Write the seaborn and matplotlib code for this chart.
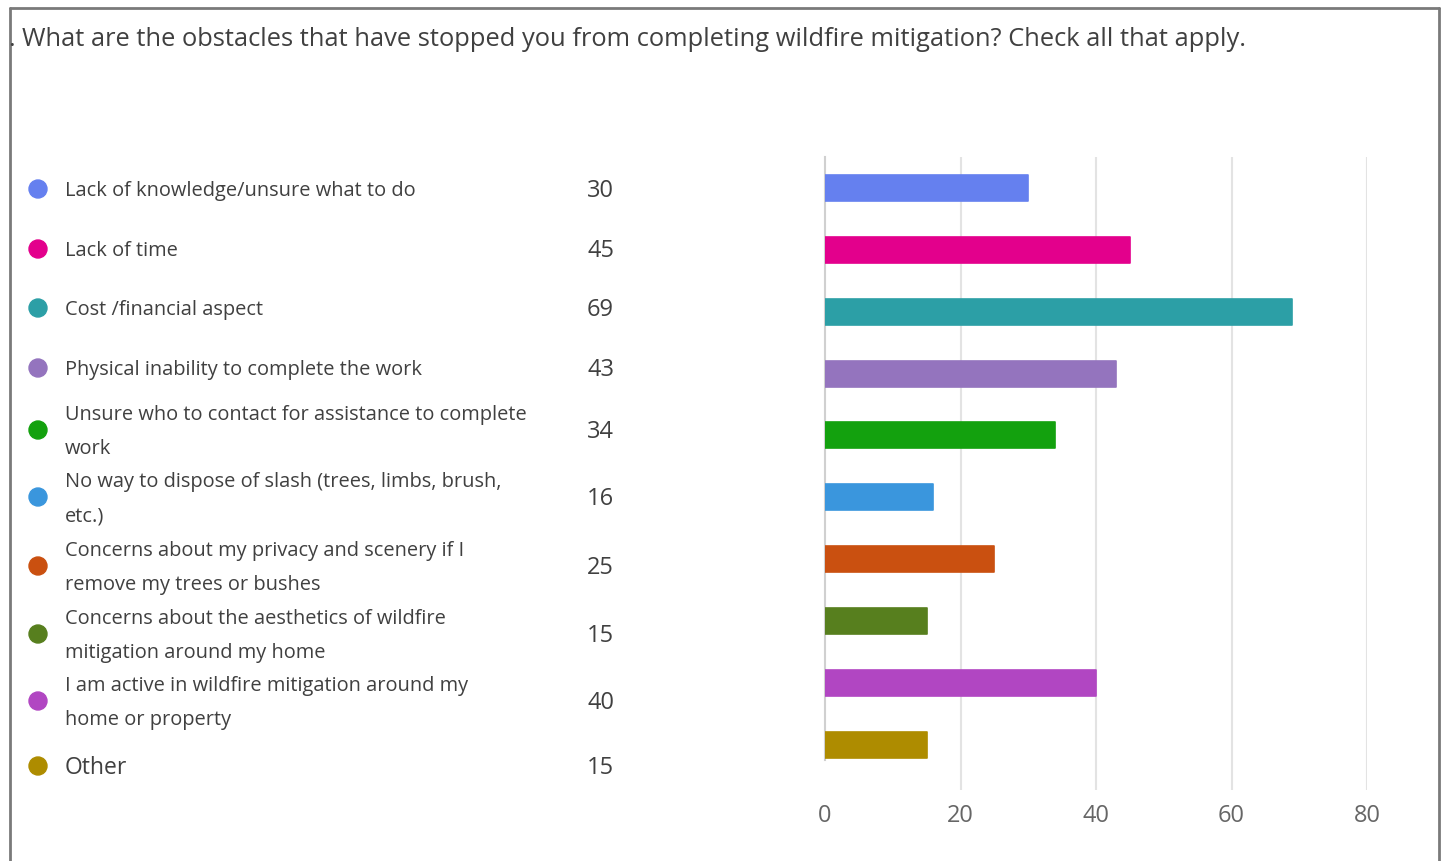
import matplotlib
matplotlib.use("Agg")
import matplotlib.pyplot as plt
from matplotlib.patches import Ellipse
import seaborn as sns

# Survey responses: obstacles to completing wildfire mitigation
categories = [
    "Lack of knowledge/unsure what to do",
    "Lack of time",
    "Cost /financial aspect",
    "Physical inability to complete the work",
    "Unsure who to contact for assistance to complete\nwork",
    "No way to dispose of slash (trees, limbs, brush,\netc.)",
    "Concerns about my privacy and scenery if I\nremove my trees or bushes",
    "Concerns about the aesthetics of wildfire\nmitigation around my home",
    "I am active in wildfire mitigation around my\nhome or property",
    "Other",
]
counts = [30, 45, 69, 43, 34, 16, 25, 15, 40, 15]
colors = ["#6580ef", "#e3008c", "#2c9fa6", "#9474be", "#13a10e",
          "#3a96dd", "#ca5010", "#577f1e", "#b146c2", "#ae8c00"]
x_ticks = [0, 20, 40, 60, 80]
title = "What are the obstacles that have stopped you from completing wildfire mitigation? Check all that apply."

sns.set_theme(style="white")
plt.rcParams["font.family"] = ["Open Sans", "DejaVu Sans"]

W, H = 1443, 861
fig = plt.figure(figsize=(W / 100, H / 100), dpi=100)
fig.patch.set_facecolor("white")

def fx(px):
    return px / W

def fy(py):
    return 1 - py / H

# outer frame (open at the bottom)
frame_kw = dict(color="#7a7a7a", lw=2, transform=fig.transFigure)
fig.add_artist(plt.Line2D([fx(10), fx(10)], [fy(8), 0], **frame_kw))
fig.add_artist(plt.Line2D([fx(1439), fx(1439)], [fy(8), 0], **frame_kw))
fig.add_artist(plt.Line2D([fx(10), fx(1439)], [fy(8), fy(8)], **frame_kw))

text_color = "#404040"
fig.text(fx(15), fy(40), ".", fontsize=18, color=text_color, va="center", ha="right")
fig.text(fx(22), fy(40), title, fontsize=18.4, color=text_color, va="center", ha="left")

# bar chart
ax = fig.add_axes([fx(825), fy(790), fx(1367) - fx(825), (790 - 157) / H])
sns.barplot(x=counts, y=categories, hue=categories, palette=colors, legend=False,
            orient="h", width=0.42, ax=ax, saturation=1, zorder=3)
for patch, c in zip(ax.patches, colors):
    patch.set_edgecolor(c)
    patch.set_linewidth(1.2)
    patch.set_joinstyle("round")

ax.set_xlim(0, 80)
ax.set_ylim(9.73, -0.5)
ax.set_xticks(x_ticks)
ax.set_yticks([])
ax.set_xlabel("")
ax.set_ylabel("")
ax.grid(False)
for t in x_ticks[1:]:
    ax.axvline(t, color="#e3e3e3", lw=1.5, zorder=0)
for side in ["top", "right", "bottom"]:
    ax.spines[side].set_visible(False)
ax.spines["left"].set_color("#d0d0d0")
ax.spines["left"].set_linewidth(1.5)
ax.spines["left"].set_bounds(9.25, -0.5)
ax.tick_params(axis="x", length=0, pad=10, labelsize=17, labelcolor="#666666")
ax.set_facecolor("none")

# legend column with dots, labels and counts
dot_y = [189, 249, 308, 368, 430, 497, 566, 634, 701, 766]
for lab, n, c, yy in zip(categories, counts, colors, dot_y):
    fig.add_artist(Ellipse((fx(38), fy(yy)), 18 / W, 18 / H, color=c,
                           transform=fig.transFigure))
    label_size = 16.5 if "\n" not in lab and len(lab) < 8 else 14.4
    fig.text(fx(65), fy(yy + 2), lab, fontsize=label_size, color=text_color,
             ha="left", va="center", linespacing=1.98)
    fig.text(fx(614), fy(yy + 2), str(n), fontsize=17, color=text_color, ha="right", va="center")

fig.savefig("out.png", dpi=100, facecolor="white")
